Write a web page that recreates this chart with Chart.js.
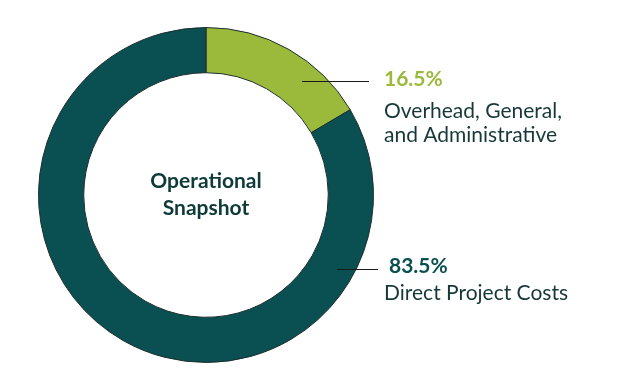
<!DOCTYPE html>
<html>
<head>
<meta charset="utf-8">
<script src="https://cdn.jsdelivr.net/npm/chart.js@4/dist/chart.umd.min.js"></script>
<style>
  html, body { margin: 0; padding: 0; background: #ffffff; }
  #wrap { width: 624px; height: 375px; position: relative; }
</style>
</head>
<body>
<div id="wrap"><canvas id="c" width="624" height="375"></canvas></div>
<script>
const categories = ["Overhead, General, and Administrative", "Direct Project Costs"];
const percentLabels = ["16.5%", "83.5%"];
const labelLines = [["Overhead, General,", "and Administrative"], ["Direct Project Costs"]];
const shares = [16.5, 83.5];
const sliceColors = ["#9bba3c", "#0a4f51"];
const centerTitle = ["Operational", "Snapshot"];

const FONT = "Lato, 'Open Sans', sans-serif";

const annotate = {
  id: "annotate",
  afterDatasetsDraw(chart) {
    const ctx = chart.ctx;
    const arcs = chart.getDatasetMeta(0).data;
    const cx = arcs[0].x, cy = arcs[0].y;
    ctx.save();
    // center title
    ctx.fillStyle = "#0f3a3a";
    ctx.font = "bold 21px " + FONT;
    ctx.textAlign = "center";
    ctx.textBaseline = "alphabetic";
    ctx.fillText(centerTitle[0], cx, cy - 7);
    ctx.fillText(centerTitle[1], cx, cy + 20);

    // leader lines + labels
    const spec = [
      {line: [96, -114, 163], tx: 178, px: 178, pctColor: sliceColors[0], pctBase: -109, gap: 32},
      {line: [131, 74, 172], tx: 178, px: 183, pctColor: sliceColors[1], pctBase: 78, gap: 27}
    ];
    ctx.textAlign = "left";
    spec.forEach((s, i) => {
      ctx.strokeStyle = "#1a1a1a";
      ctx.lineWidth = 1;
      ctx.beginPath();
      ctx.moveTo(cx + s.line[0], cy + s.line[1] + 0.5);
      ctx.lineTo(cx + s.line[2], cy + s.line[1] + 0.5);
      ctx.stroke();
      ctx.fillStyle = s.pctColor;
      ctx.font = "bold 21px " + FONT;
      ctx.fillText(percentLabels[i], cx + s.px, cy + s.pctBase);
      ctx.fillStyle = "#173838";
      ctx.font = "21px " + FONT;
      labelLines[i].forEach((t, j) => {
        ctx.fillText(t, cx + s.tx, cy + s.pctBase + s.gap + j * 24);
      });
    });
    ctx.restore();
  }
};

new Chart(document.getElementById("c"), {
  type: "doughnut",
  data: {
    labels: categories,
    datasets: [{
      data: shares,
      backgroundColor: sliceColors,
      borderColor: "#1e2e2e",
      borderWidth: 1,
      hoverOffset: 0
    }]
  },
  options: {
    responsive: false,
    animation: false,
    cutout: "73%",
    rotation: 0,
    layout: { padding: { left: 38, right: 250, top: 27, bottom: 12 } },
    plugins: {
      legend: { display: false },
      tooltip: { enabled: false }
    }
  },
  plugins: [annotate]
});
</script>
</body>
</html>
